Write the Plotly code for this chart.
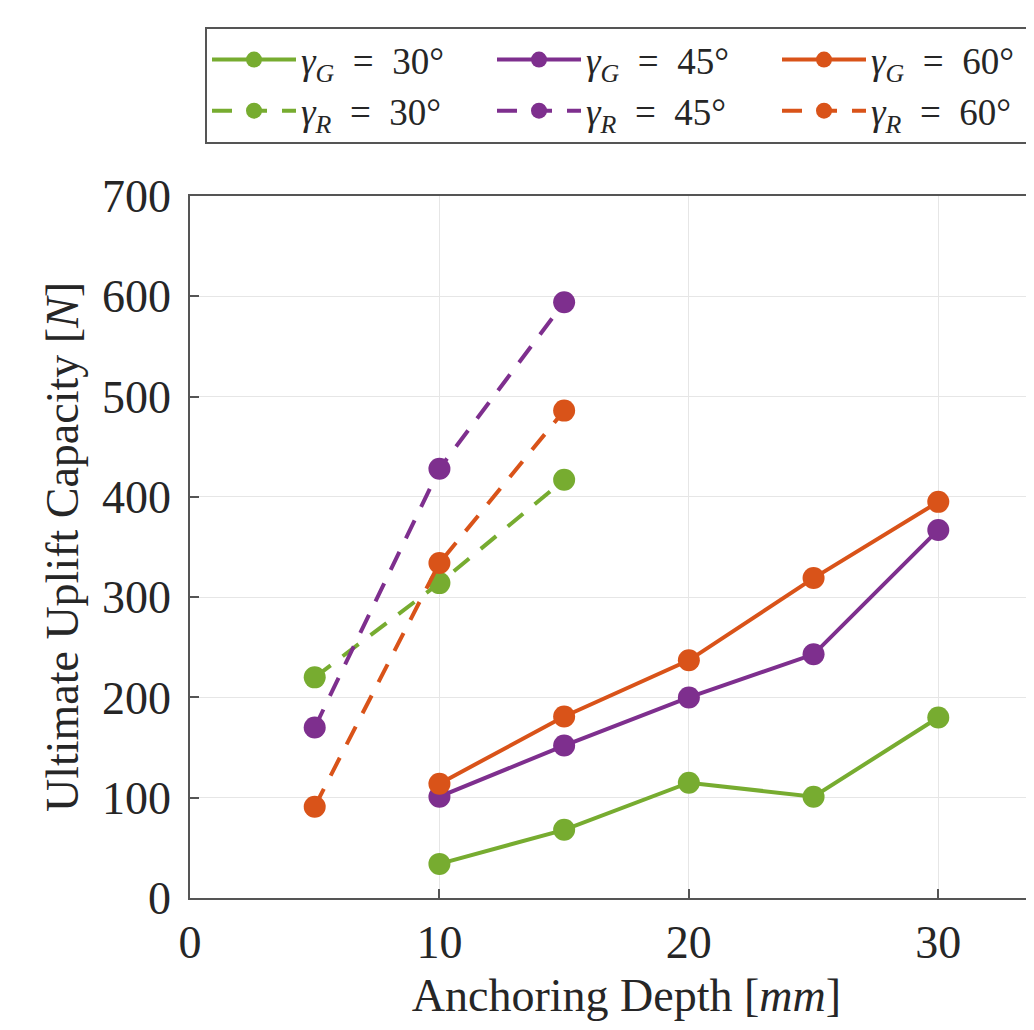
import plotly.graph_objects as go

depth_g = [10, 15, 20, 25, 30]
depth_r = [5, 10, 15]
g30 = [34, 68, 115, 101, 180]
g45 = [101, 152, 200, 243, 367]
g60 = [114, 181, 237, 319, 395]
r30 = [220, 314, 417]
r45 = [170, 428, 594]
r60 = [91, 334, 486]
x_ticks = [0, 10, 20, 30]
y_ticks = [0, 100, 200, 300, 400, 500, 600, 700]

GREEN = "#77AC30"
PURPLE = "#7E2F8E"
ORANGE = "#D95319"
FONT = "Liberation Serif"
TXT = "#262626"
DASH = "20px,15px"
SP = "\u2002"

fig = go.Figure()

series = [
    (depth_g, g30, GREEN, "solid", f"<i>γ<sub>G</sub></i>{SP}={SP}30°"),
    (depth_g, g45, PURPLE, "solid", f"<i>γ<sub>G</sub></i>{SP}={SP}45°"),
    (depth_g, g60, ORANGE, "solid", f"<i>γ<sub>G</sub></i>{SP}={SP}60°"),
    (depth_r, r30, GREEN, DASH, f"<i>γ<sub>R</sub></i>{SP}={SP}30°"),
    (depth_r, r45, PURPLE, DASH, f"<i>γ<sub>R</sub></i>{SP}={SP}45°"),
    (depth_r, r60, ORANGE, DASH, f"<i>γ<sub>R</sub></i>{SP}={SP}60°"),
]
for x, y, c, d, name in series:
    fig.add_trace(go.Scatter(
        x=x, y=y, name=name, mode="lines+markers",
        line=dict(color=c, width=4, dash=d),
        marker=dict(color=c, size=22, line=dict(width=0)),
    ))

axis_common = dict(
    showline=True, linecolor="#555555", linewidth=1.5, mirror=True,
    ticks="inside", ticklen=9, tickcolor="#555555", tickwidth=1.5,
    showgrid=True, gridcolor="#e6e6e6", gridwidth=1.2,
    zeroline=False,
    tickfont=dict(family=FONT, size=46, color=TXT),
)

fig.update_xaxes(range=[0, 35], tickvals=x_ticks,
                 title=dict(text="Anchoring Depth [<i>mm</i>]",
                            font=dict(family=FONT, size=46, color=TXT), standoff=12),
                 ticklabelstandoff=3, **axis_common)
fig.update_yaxes(range=[0, 700], tickvals=y_ticks,
                 title=dict(text="Ultimate Uplift Capacity [<i>N</i>]",
                            font=dict(family=FONT, size=46, color=TXT), standoff=9),
                 ticklabelstandoff=8, **axis_common)

fig.update_layout(
    width=1055, height=1022,
    margin=dict(l=182, r=0, t=188, b=132, autoexpand=False),
    plot_bgcolor="white", paper_bgcolor="white",
    font=dict(family=FONT, color=TXT),
    showlegend=True,
    legend=dict(
        orientation="h", x=15 / 873, xanchor="left", y=1 + 169 / 702, yanchor="top",
        bordercolor="#555555", borderwidth=2, bgcolor="white",
        font=dict(family=FONT, size=37, color=TXT),
        itemwidth=84, entrywidth=186, entrywidthmode="pixels",
        tracegroupgap=0, itemsizing="trace",
    ),
)

fig.write_html("out.html")
